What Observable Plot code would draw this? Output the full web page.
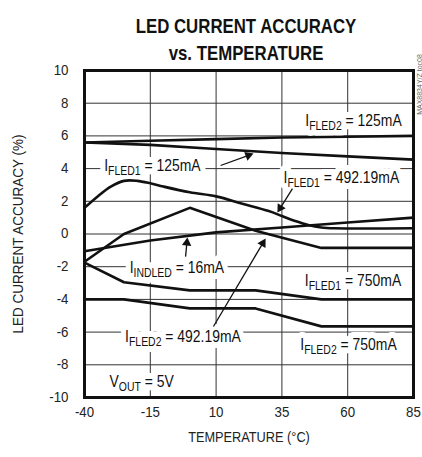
<!DOCTYPE html>
<html><head><meta charset="utf-8">
<script src="https://cdn.jsdelivr.net/npm/d3@7"></script>
<script src="https://cdn.jsdelivr.net/npm/@observablehq/plot@0.6"></script>
<style>
body{margin:0;background:#fff;}
</style></head><body><div id="chart"></div>
<script>
const FONT = '"Liberation Sans", Arimo, Arial, sans-serif';

// x ticks (°C) and y ticks (%)
const xTicks = [-40, -15, 10, 35, 60, 85];
const yTicks = [-10, -8, -6, -4, -2, 0, 2, 4, 6, 8, 10];

// series: temperature (°C) and accuracy (%)
const fled2_125_t = [-40, -15, 10, 35, 60, 85];
const fled2_125_v = [5.6, 5.7, 5.8, 5.9, 5.95, 6.0];
const fled1_125_t = [-40, -15, 10, 35, 60, 85];
const fled1_125_v = [5.6, 5.45, 5.2, 4.95, 4.75, 4.55];
const fled1_492_t = [-40, -35, -30, -25, -20, -15, -10, 0, 10, 20, 30, 35, 40, 45, 50, 55, 85];
const fled1_492_v = [1.6, 2.3, 2.9, 3.25, 3.25, 3.1, 2.9, 2.55, 2.3, 1.85, 1.4, 1.1, 0.8, 0.55, 0.4, 0.35, 0.35];
const indled_16_t = [-40, -15, 10, 35, 60, 85];
const indled_16_v = [-1.05, -0.4, 0.1, 0.4, 0.7, 1.0];
const fled2_492_t = [-40, -25, 0, 25, 50, 85];
const fled2_492_v = [-1.7, 0, 1.6, 0.2, -0.85, -0.85];
const fled1_750_t = [-40, -25, 0, 25, 50, 85];
const fled1_750_v = [-1.75, -2.95, -3.45, -3.45, -4.0, -4.0];
const fled2_750_t = [-40, -25, 0, 25, 50, 85];
const fled2_750_v = [-4.0, -4.0, -4.55, -4.55, -5.65, -5.65];

// annotation labels ({...} = subscript) and their positions in data units
const labelText = ["I{FLED2} = 125mA", "I{FLED1} = 125mA", "I{FLED1} = 492.19mA", "I{INDLED} = 16mA",
                   "I{FLED1} = 750mA", "I{FLED2} = 492.19mA", "I{FLED2} = 750mA", "V{OUT} = 5V"];
const labelX = [62.2, -14.2, 57.6, -4.9, 62.0, -2.6, 60.3, -18.3];
const labelY = [6.9, 4.15, 3.45, -2.1, -2.85, -6.27, -6.8, -9.05];

// arrows (data units): tail -> tip
const arrowX1 = [11.7, 39.0, -1.6, 9.0];
const arrowY1 = [4.19, 2.78, -1.38, -5.66];
const arrowX2 = [24.2, 33.3, -0.9, 28.8];
const arrowY2 = [4.92, 1.31, -0.21, -0.28];

const titleLines = ["LED CURRENT ACCURACY", "vs. TEMPERATURE"];
const xTitle = "TEMPERATURE (°C)";
const yTitle = "LED CURRENT ACCURACY (%)";
const codeText = "MAX8834Y/Z toc08";

const W = 422, H = 457, ML = 84, MR = 9, MT = 70, MB = 60;
const kx = (W - ML - MR) / 125, ky = (H - MT - MB) / 20;

const mk = (name, t, v) => t.map((d, i) => ({series: name, t: d, v: v[i]}));
const straight = [
  ...mk("IFLED2 125mA", fled2_125_t, fled2_125_v),
  ...mk("IFLED1 125mA", fled1_125_t, fled1_125_v),
  ...mk("IINDLED 16mA", indled_16_t, indled_16_v),
  ...mk("IFLED2 492.19mA", fled2_492_t, fled2_492_v),
  ...mk("IFLED1 750mA", fled1_750_t, fled1_750_v),
  ...mk("IFLED2 750mA", fled2_750_t, fled2_750_v)
];
const curved = mk("IFLED1 492.19mA", fled1_492_t, fled1_492_v);
const labels = labelText.map((s, i) => ({s, x: labelX[i], y: labelY[i]}));
const arrows = arrowX1.map((d, i) => {
  const x1 = d, y1 = arrowY1[i], x2 = arrowX2[i], y2 = arrowY2[i];
  const dxp = (x2 - x1) * kx, dyp = -(y2 - y1) * ky, L = Math.hypot(dxp, dyp);
  const ux = dxp / L, uy = dyp / L, off = 5.4;
  return {x1, y1, x2, y2,
    hx: x2 - ux * off / kx, hy: y2 + uy * off / ky,
    lx: x2 - ux * 3 / kx, ly: y2 + uy * 3 / ky,
    rot: Math.atan2(ux, -uy) * 180 / Math.PI};
});

const chart = Plot.plot({
  width: W, height: H,
  marginLeft: ML, marginRight: MR, marginTop: MT, marginBottom: MB,
  style: {fontFamily: FONT, background: "white", color: "#222"},
  x: {domain: [-40, 85]},
  y: {domain: [-10, 10]},
  marks: [
    Plot.gridX(xTicks, {stroke: "#333", strokeOpacity: 1, strokeWidth: 1}),
    Plot.gridY(yTicks, {stroke: "#333", strokeOpacity: 1, strokeWidth: 1}),
    Plot.text(labels, {x: "x", y: "y", text: "s", fontSize: 16, fill: "white",
      stroke: "white", strokeWidth: 12, strokeLinejoin: "round"}),
    Plot.text(labels, {x: "x", y: "y", text: "s", fontSize: 16, fill: "#111"}),
    Plot.line(straight, {x: "t", y: "v", z: "series", stroke: "#111", strokeWidth: 2.6, strokeLinejoin: "round"}),
    Plot.line(curved, {x: "t", y: "v", stroke: "#111", strokeWidth: 2.6, curve: "catmull-rom"}),
    Plot.link(arrows, {x1: "x1", y1: "y1", x2: "lx", y2: "ly", stroke: "#111", strokeWidth: 1.3}),
    Plot.dot(arrows, {x: "hx", y: "hy", rotate: "rot", symbol: "triangle", r: 3.5, fill: "#111", stroke: "none"}),
    Plot.frame({stroke: "#111", strokeWidth: 3}),
    Plot.axisX(xTicks, {tickSize: 0, tickPadding: 10, fontSize: 14, label: null, tickFormat: d => String(d)}),
    Plot.axisY(yTicks, {tickSize: 0, tickPadding: 16, fontSize: 14, label: null, tickFormat: d => String(d)}),
    Plot.text([xTitle], {frameAnchor: "bottom", dy: 44, fontSize: 15, fill: "#222"}),
    Plot.text([yTitle], {frameAnchor: "left", textAnchor: "middle", dx: -66, rotate: -90, fontSize: 15, fill: "#222"}),
    Plot.text([titleLines[0]], {frameAnchor: "top", dx: -3, dy: -52, fontSize: 21, fontWeight: "bold", fill: "#111"}),
    Plot.text([titleLines[1]], {frameAnchor: "top", dx: -3, dy: -25, fontSize: 21, fontWeight: "bold", fill: "#111"}),
    Plot.text([codeText], {frameAnchor: "top-right", textAnchor: "middle", dx: 4, dy: 14, rotate: -90, fontSize: 7, fill: "#666"})
  ]
});

// rebuild labels with subscripts, and sort text nodes by role
const ns = "http://www.w3.org/2000/svg";
const roles = {label: [], title: [], xtitle: [], ytitle: [], tick: []};
chart.querySelectorAll("text").forEach(t => {
  const s = t.textContent;
  if (s.includes("{")) {
    const parts = s.split(/(\{[^}]*\})/).filter(p => p.length);
    while (t.firstChild) t.removeChild(t.firstChild);
    parts.forEach(p => {
      const ts = document.createElementNS(ns, "tspan");
      if (p.startsWith("{")) {
        ts.textContent = p.slice(1, -1);
        ts.setAttribute("font-size", "12");
        ts.setAttribute("dy", "4");
      } else {
        ts.textContent = p;
        if (t.childNodes.length) ts.setAttribute("dy", "-4");
      }
      t.appendChild(ts);
    });
    roles.label.push(t);
  } else if (titleLines.includes(s)) roles.title.push(t);
  else if (s === xTitle) roles.xtitle.push(t);
  else if (s === yTitle) roles.ytitle.push(t);
  else if (s !== codeText) roles.tick.push(t);
});
document.getElementById("chart").appendChild(chart);

// condensed look (reference uses a condensed face)
function condense(list, f) {
  list.forEach(t => {
    const L = t.getComputedTextLength();
    if (L > 0) {
      t.setAttribute("textLength", (L * f).toFixed(1));
      t.setAttribute("lengthAdjust", "spacingAndGlyphs");
    }
  });
}
condense(roles.label, 0.87);
condense(roles.title, 0.8);
condense(roles.xtitle, 0.85);
condense(roles.ytitle, 0.9);
condense(roles.tick, 0.95);
</script>
</body></html>
